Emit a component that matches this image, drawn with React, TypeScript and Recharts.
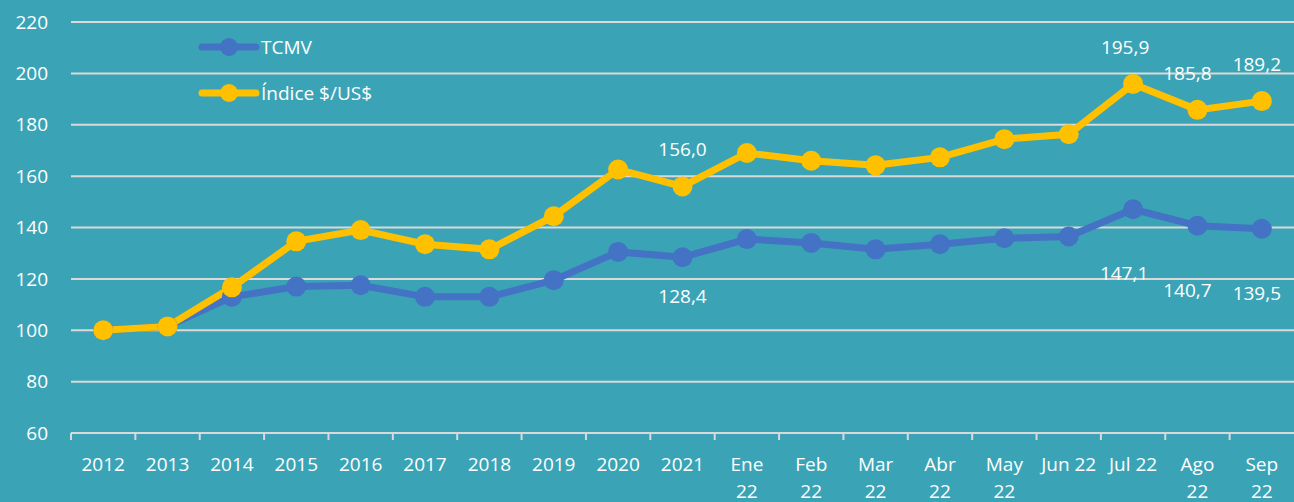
import React from "react";
import { LineChart, Line, XAxis, YAxis, CartesianGrid, LabelList } from "recharts";

const categories = ["2012","2013","2014","2015","2016","2017","2018","2019","2020","2021","Ene 22","Feb 22","Mar 22","Abr 22","May 22","Jun 22","Jul 22","Ago 22","Sep 22"];
const tickLabels = ["2012","2013","2014","2015","2016","2017","2018","2019","2020","2021","Ene\n22","Feb\n22","Mar\n22","Abr\n22","May\n22","Jun 22","Jul 22","Ago\n22","Sep\n22"];
const tcmv = [100, 101.5, 113, 117, 117.5, 113, 113, 119.5, 130.5, 128.4, 135.5, 134, 131.5, 133.5, 135.8, 136.5, 147.1, 140.7, 139.5];
const indice = [100, 101.5, 116.7, 134.6, 139, 133.5, 131.5, 144.4, 162.6, 156.0, 169, 166, 164.2, 167.3, 174.4, 176.3, 195.9, 185.8, 189.2];
const labeledCategories = ["2021", "Jul 22", "Ago 22", "Sep 22"];
const yTicks = [60, 80, 100, 120, 140, 160, 180, 200, 220];
const seriesNames = ["TCMV", "Índice $/US$"];

const data = categories.map((c, i) => ({ cat: c, tcmv: tcmv[i], indice: indice[i] }));

const W = 1294, H = 502;
const Y_AXIS_W = 71;
const PLOT_W = W - Y_AXIS_W;
const BAND = PLOT_W / categories.length;
const FONT = "'Open Sans', sans-serif";
const FS = 19;
const BG = "#3aa4b6";
const BLUE = "#4472c4";
const YELLOW = "#ffc000";

const fmt = (v: number) => v.toFixed(1).replace(".", ",");

const XTick = (props: any) => {
  const { x, y, payload, index } = props;
  const i = payload?.index ?? index;
  const label = tickLabels[i] ?? payload.value;
  const lines = String(label).split("\n");
  const left = x - BAND / 2;
  return (
    <g>
      <line x1={left} y1={y - 8} x2={left} y2={y - 1} stroke="#d9d9d9" strokeWidth={2} />
      <text x={x} y={y + 30} textAnchor="middle" fill="#fff" fontSize={FS} fontFamily={FONT}>
        {lines.map((l, k) => (
          <tspan key={k} x={x} dy={k === 0 ? 0 : 27}>{l}</tspan>
        ))}
      </text>
    </g>
  );
};

const makeLabel = (above: boolean) => (props: any) => {
  const { x, y, value, index } = props;
  if (!labeledCategories.includes(categories[index])) return null;
  const isEarly = categories[index] === "2021";
  const dy = above ? -30 : isEarly ? 46 : 71;
  const n = categories.length;
  let dx = 0;
  if (index === n - 2) dx = -10;
  else if (index === n - 1) dx = -5;
  else if (index === n - 3 && !above) dx = -9;
  else if (index === n - 3 && above) dx = -8;
  return (
    <text x={x + dx} y={y + dy} textAnchor="middle" fill="#fff" fontSize={FS} fontFamily={FONT}>
      {fmt(value)}
    </text>
  );
};

const legendColors = [BLUE, YELLOW];

export default function App() {
  return (
    <div style={{ position: "absolute", left: 0, top: 0, width: W, height: H, background: BG, overflow: "hidden" }}>
      <LineChart width={W} height={H} data={data} margin={{ top: 22, right: 0, left: 0, bottom: 0 }}>
        <CartesianGrid horizontal vertical={false} stroke="#d9d9d9" strokeWidth={2} />
        <XAxis
          dataKey="cat"
          height={69}
          interval={0}
          padding={{ left: BAND / 2, right: BAND / 2 }}
          axisLine={{ stroke: "#d9d9d9", strokeWidth: 2 }}
          tickLine={false}
          tick={<XTick />}
        />
        <YAxis
          width={Y_AXIS_W}
          domain={[60, 220]}
          ticks={yTicks}
          axisLine={false}
          tickLine={false}
          tickSize={0}
          tickMargin={23}
          tick={{ fill: "#fff", fontSize: FS, fontFamily: FONT }}
        />
        <Line
          type="linear"
          dataKey="tcmv"
          name={seriesNames[0]}
          stroke={BLUE}
          strokeWidth={7}
          dot={{ r: 10, fill: BLUE, stroke: BLUE, strokeWidth: 0 }}
          isAnimationActive={false}
        >
          <LabelList dataKey="tcmv" content={makeLabel(false)} />
        </Line>
        <Line
          type="linear"
          dataKey="indice"
          name={seriesNames[1]}
          stroke={YELLOW}
          strokeWidth={7}
          dot={{ r: 10, fill: YELLOW, stroke: YELLOW, strokeWidth: 0 }}
          isAnimationActive={false}
        >
          <LabelList dataKey="indice" content={makeLabel(true)} />
        </Line>
      </LineChart>
      <div style={{ position: "absolute", left: 198, top: 24, fontFamily: FONT, fontSize: FS, color: "#fff" }}>
        {seriesNames.map((name, i) => (
          <div key={name} style={{ display: "flex", alignItems: "center", height: 46 }}>
            <svg width={62} height={22}>
              <line x1={4} y1={11} x2={58} y2={11} stroke={legendColors[i]} strokeWidth={7} strokeLinecap="round" />
              <circle cx={31} cy={11} r={9} fill={legendColors[i]} />
            </svg>
            <span style={{ marginLeft: 1 }}>{name}</span>
          </div>
        ))}
      </div>
    </div>
  );
}
